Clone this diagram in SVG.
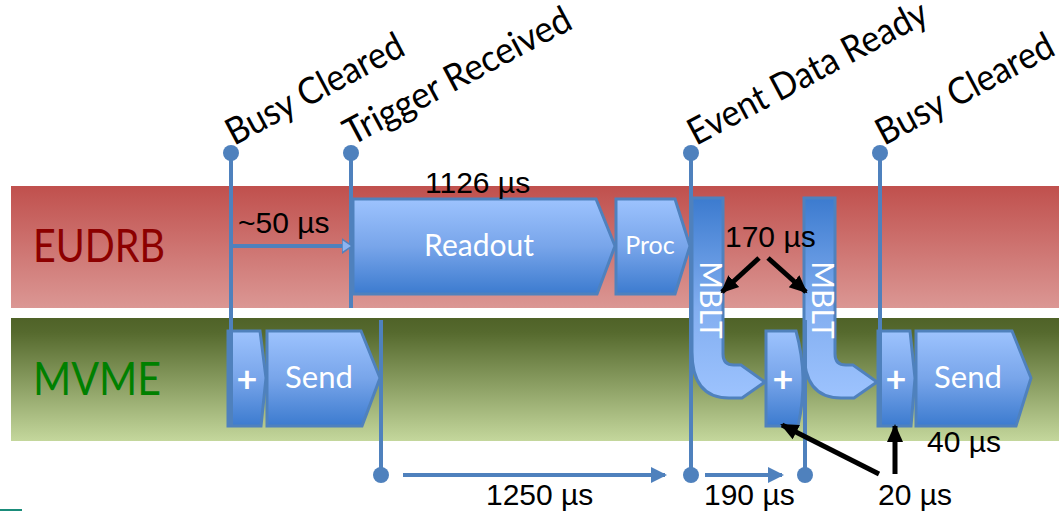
<svg xmlns="http://www.w3.org/2000/svg" width="1059" height="511" viewBox="0 0 1059 511">
<defs>
<linearGradient id="gRed" x1="0" y1="0" x2="0" y2="1"><stop offset="0" stop-color="#C0504D"/><stop offset="1" stop-color="#DB9794"/></linearGradient>
<linearGradient id="gGreen" x1="0" y1="0" x2="0" y2="1"><stop offset="0" stop-color="#4F6228"/><stop offset="0.12" stop-color="#566A2E"/><stop offset="1" stop-color="#C4D79C"/></linearGradient>
<linearGradient id="gBlue" x1="0" y1="0" x2="0" y2="1"><stop offset="0" stop-color="#9DC3FE"/><stop offset="0.5" stop-color="#78A5EA"/><stop offset="1" stop-color="#3C7BCF"/></linearGradient>
<linearGradient id="gBlueUp" x1="0" y1="0" x2="0" y2="1"><stop offset="0" stop-color="#3C7BCF"/><stop offset="0.55" stop-color="#82AEF0"/><stop offset="1" stop-color="#9DC3FE"/></linearGradient>
<marker id="blueHead" markerUnits="userSpaceOnUse" markerWidth="18" markerHeight="18" refX="14" refY="9" orient="auto"><path d="M0,1 L16,9 L0,17 Z" fill="#4F81BD"/></marker>
<marker id="smallHead" markerUnits="userSpaceOnUse" markerWidth="12" markerHeight="16" refX="9" refY="8" orient="auto"><path d="M0,1 L10,8 L0,15 Z" fill="#8DB3F0" stroke="#4F81BD" stroke-width="1.5"/></marker>
<marker id="blackHead" markerUnits="userSpaceOnUse" markerWidth="20" markerHeight="20" refX="16" refY="10" orient="auto"><path d="M0,2 L18,10 L0,18 Z" fill="#000"/></marker>
<style>
.band{stroke:none}
.shape{fill:url(#gBlue);stroke:#4F81BD;stroke-width:3;stroke-linejoin:miter}
.mblt{fill:url(#gBlueUp);stroke:#4F81BD;stroke-width:3}
.cal{font-family:Lato,"Liberation Sans",sans-serif}
.lbl{font-family:Lato,"Liberation Sans",sans-serif;font-size:37px;fill:#000}
.wt{font-family:Lato,"Liberation Sans",sans-serif;fill:#fff;text-anchor:middle}
.num{font-family:"Liberation Sans",Arial,sans-serif;font-size:30px;fill:#000}
.vline{stroke:#4F81BD;stroke-width:4;fill:none}
.dot{fill:#4F81BD}
.blk{stroke:#000;stroke-width:5;fill:none}
</style>
</defs>

<g id="bands">
<rect class="band" x="11" y="186" width="1048" height="122" fill="url(#gRed)"/>
<rect class="band" x="11" y="318" width="1048" height="123" fill="url(#gGreen)"/>
<text class="cal" x="33" y="262" font-size="46" fill="#8C0000" textLength="132" lengthAdjust="spacingAndGlyphs">EUDRB</text>
<text class="cal" x="33" y="395" font-size="46" fill="#008000" textLength="128" lengthAdjust="spacingAndGlyphs">MVME</text>
</g>

<g id="readout"><path class="shape" d="M353,199 H596 L615,246 L597,294 H353 Z"/><text class="wt" x="479" y="256" font-size="30">Readout</text></g>
<g id="proc"><path class="shape" d="M616,199 H675 L690,246 L675,294 H616 Z"/><text class="wt" x="650" y="254" font-size="25">Proc</text></g>
<g id="mblt1"><path class="mblt" d="M692,198 H723 V354 Q723,365 734,365 H741 L765,382 L742,398 H729 Q692,398 692,352 Z"/><text class="wt" font-size="30" transform="translate(700,300) rotate(90)">MBLT</text></g>
<g id="mblt2"><path class="mblt" d="M804,198 H835 V354 Q835,365 846,365 H853 L877,382 L854,398 H841 Q804,398 804,352 Z"/><text class="wt" font-size="30" transform="translate(812,300) rotate(90)">MBLT</text></g>
<g id="plus1"><path class="shape" d="M228,331 H260 L266,378 L261,426 H228 Z"/><text class="wt" x="247" y="392" font-size="36" font-weight="bold">+</text></g>
<g id="send1"><path class="shape" d="M267,331 H361 L380,378 L362,426 H267 Z"/><text class="wt" x="319" y="388" font-size="31">Send</text></g>
<g id="plus2"><path class="shape" d="M766,331 H796 Q809,378 798,426 H766 Z"/><text class="wt" x="783" y="392" font-size="36" font-weight="bold">+</text></g>
<g id="plus3"><path class="shape" d="M878,331 H910 L915,378 L911,426 H878 Z"/><text class="wt" x="896" y="392" font-size="36" font-weight="bold">+</text></g>
<g id="send2"><path class="shape" d="M916,331 H1012 L1031,378 L1016,426 H916 Z"/><text class="wt" x="968" y="388" font-size="31">Send</text></g>

<g id="connectors">
<path class="vline" d="M231,152 V426"/>
<path class="vline" d="M351,152 V308"/>
<path class="vline" d="M381,320 V475"/>
<path class="vline" d="M691,152 V475"/>
<path class="vline" d="M805,320 V475"/>
<path class="vline" d="M880,152 V426"/>
<circle class="dot" cx="231" cy="153" r="8"/>
<circle class="dot" cx="351" cy="153" r="8"/>
<circle class="dot" cx="691" cy="153" r="8"/>
<circle class="dot" cx="880" cy="153" r="8"/>
<circle class="dot" cx="381" cy="475" r="8"/>
<circle class="dot" cx="691" cy="475" r="8"/>
<circle class="dot" cx="805" cy="475" r="8"/>
<path class="vline" d="M231,246 H351" marker-end="url(#smallHead)"/>
<path class="vline" d="M403,475 H665" stroke-width="5" marker-end="url(#blueHead)"/>
<path class="vline" d="M705,475 H782" stroke-width="5" marker-end="url(#blueHead)"/>
<path class="blk" d="M759,258 L722,292" marker-end="url(#blackHead)"/>
<path class="blk" d="M768,258 L806,292" marker-end="url(#blackHead)"/>
<path class="blk" d="M879,474 L782,425" marker-end="url(#blackHead)"/>
<path class="blk" d="M895,474 L895,426" marker-end="url(#blackHead)"/>
</g>

<g id="labels">
<text class="lbl" transform="translate(234,146) rotate(-28)" textLength="196" lengthAdjust="spacingAndGlyphs">Busy Cleared</text>
<text class="lbl" transform="translate(352,146) rotate(-28)" textLength="252" lengthAdjust="spacingAndGlyphs">Trigger Received</text>
<text class="lbl" transform="translate(696,146) rotate(-28)" textLength="266" lengthAdjust="spacingAndGlyphs">Event Data Ready</text>
<text class="lbl" transform="translate(884,146) rotate(-28)" textLength="196" lengthAdjust="spacingAndGlyphs">Busy Cleared</text>
<text class="num" x="238" y="233">~50 µs</text>
<text class="num" x="425" y="193">1126 µs</text>
<text class="num" x="725" y="247" font-size="25">170 µs</text>
<text class="num" x="927" y="452">40 µs</text>
<text class="num" x="878" y="505">20 µs</text>
<text class="num" x="704" y="505">190 µs</text>
<text class="num" x="486" y="505">1250 µs</text>
</g>
<rect x="0" y="509" width="22" height="2" fill="#1A8C7A"/>
</svg>
